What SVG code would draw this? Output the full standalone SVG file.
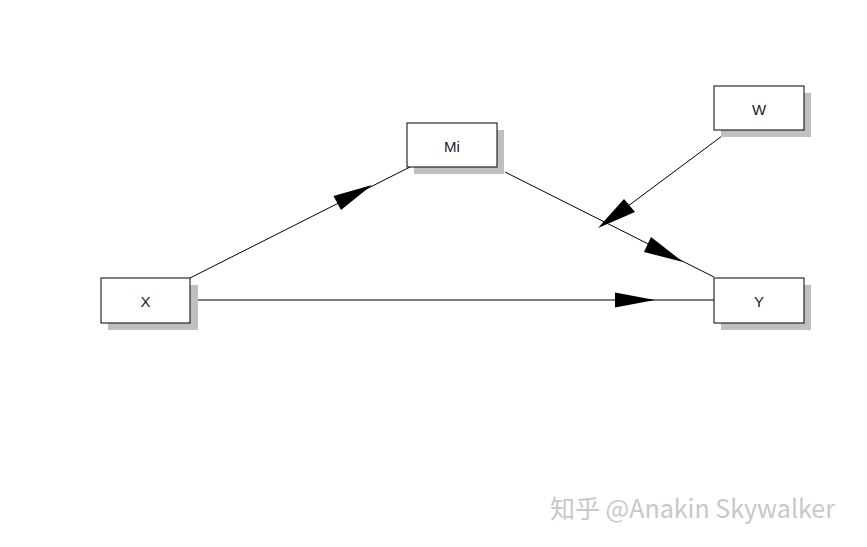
<svg xmlns="http://www.w3.org/2000/svg" width="867" height="547" viewBox="0 0 867 547">
<style>
.sh{fill:#c0c0c0}
.bx{fill:#fff;stroke:#000;stroke-width:1}
.lb{font-family:"Liberation Sans",Arial,sans-serif;font-size:15px;text-anchor:middle;dominant-baseline:central;fill:#222}
.ln{stroke:#000;stroke-width:1;fill:none}
.ah{fill:#000}
</style>
<rect width="867" height="547" fill="#fff"/>
<g id="connectors">
<line class="ln" x1="190" y1="278" x2="410" y2="167"/>
<polygon class="ah" points="372,185 333.5,196 341,210"/>
<line class="ln" x1="198" y1="300" x2="714" y2="300"/>
<polygon class="ah" points="655,300 615,292.5 615,307.5"/>
<line class="ln" x1="505" y1="172" x2="714" y2="277"/>
<polygon class="ah" points="683,262 651,237 644,252"/>
<line class="ln" x1="722" y1="136" x2="620" y2="212"/>
<polygon class="ah" points="598,228 624,199 635,212"/>
</g>
<g id="X"><rect class="sh" x="108" y="285" width="90" height="45"/><rect class="bx" x="101" y="278" width="89" height="45"/><text class="lb" x="145.5" y="301">X</text></g>
<g id="Mi"><rect class="sh" x="414" y="130" width="90" height="44"/><rect class="bx" x="407" y="123" width="90" height="44"/><text class="lb" x="452" y="146">Mi</text></g>
<g id="W"><rect class="sh" x="721" y="93" width="90" height="44"/><rect class="bx" x="714" y="86" width="90" height="44"/><text class="lb" x="759" y="109">W</text></g>
<g id="Y"><rect class="sh" x="721" y="285" width="90" height="45"/><rect class="bx" x="714" y="278" width="90" height="45"/><text class="lb" x="759" y="301">Y</text></g>
<text x="550" y="518" font-family="'Noto Sans CJK SC','Liberation Sans',sans-serif" font-size="25" fill="#c8c8c8">知乎 @Anakin Skywalker</text>
</svg>
